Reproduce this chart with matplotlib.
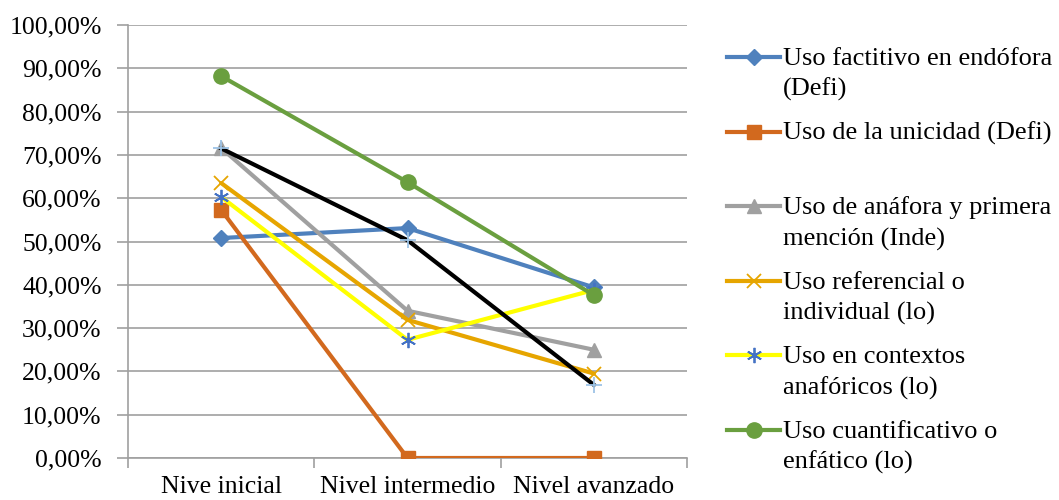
import numpy as np
import matplotlib
matplotlib.use("Agg")
import matplotlib.pyplot as plt
from matplotlib.lines import Line2D

plt.rcParams['font.family'] = ['Liberation Serif', 'DejaVu Serif']

niveles = ["Nive inicial", "Nivel intermedio", "Nivel avanzado"]

factitivo = [50.8, 53.1, 39.4]
unicidad = [57.3, 0.0, 0.0]
anafora = [71.6, 34.0, 25.0]
referencial = [63.5, 31.9, 19.5]
contextos = [60.3, 27.3, 38.8]
cuantificativo = [88.2, 63.7, 37.6]
otro = [71.5, 50.3, 16.9]   # serie sin leyenda visible (línea negra)

etiquetas = ["Uso factitivo en endófora\n(Defi)",
             "Uso de la unicidad (Defi)",
             "Uso de anáfora y primera\nmención (Inde)",
             "Uso referencial o\nindividual (lo)",
             "Uso en contextos\nanafóricos (lo)",
             "Uso cuantificativo o\nenfático (lo)"]

W, H = 1059, 500
fig = plt.figure(figsize=(W / 100, H / 100), dpi=100)
ax = fig.add_axes([128 / W, 1 - 458 / H, (687 - 128) / W, (458 - 25) / H])

# estilos de cada serie
estilos = [
    dict(color="#4F81BD", marker="D", ms=8, mfc="#4F81BD", mec="#4F81BD"),
    dict(color="#D2691E", marker="s", ms=10, mfc="#D2691E", mec="#D2691E"),
    dict(color="#A0A0A0", marker="^", ms=10, mfc="#A0A0A0", mec="#A0A0A0"),
    dict(color="#E6A500", marker="x", ms=10, mfc="none", mec="#E6A500", mew=1.3),
    dict(color="#FFFF00", marker=(6, 2, 0), ms=11, mfc="none", mec="#4472C4", mew=1.3),
    dict(color="#6A9F3F", marker="o", ms=11, mfc="#6A9F3F", mec="#6A9F3F"),
]
series = [factitivo, unicidad, anafora, referencial, contextos, cuantificativo]

x = np.arange(len(niveles))
for s, st in zip(series, estilos):
    ax.plot(x, s, lw=3, solid_capstyle="round", **st, zorder=3)
ax.plot(x, otro, color="black", lw=3, marker="+", ms=12, mec="#9DC3E6", mew=1.3, zorder=3)

ax.set_xlim(-0.5, 2.5)
ax.set_ylim(0, 100)
yt = np.arange(0, 101, 10)
ax.set_yticks(yt)
ax.set_yticklabels([f"{v:.2f}%".replace(".", ",") for v in yt], fontsize=18.5)
ax.yaxis.grid(True, color="#A0A0A0", lw=1.2)
ax.set_axisbelow(True)
ax.set_xticks(x)
ax.set_xticklabels(niveles, fontsize=18.5)
ax.set_xticks([-0.5, 0.5, 1.5, 2.5], minor=True)
ax.tick_params(axis="x", which="major", length=0, pad=13)
ax.tick_params(axis="x", which="minor", length=7, color="#A0A0A0", width=1.2)
ax.tick_params(axis="y", length=8, color="#A0A0A0", width=1.2, pad=11)
for sp in ["top", "right"]:
    ax.spines[sp].set_visible(False)
for sp in ["left", "bottom"]:
    ax.spines[sp].set_color("#A0A0A0")
    ax.spines[sp].set_linewidth(1.2)

# leyenda manual
y0, paso = 57, 74.6
for i, (lab, st) in enumerate(zip(etiquetas, estilos)):
    yh = y0 + i * paso
    fig.add_artist(Line2D([727 / W, 780 / W], [1 - yh / H, 1 - yh / H], lw=3,
                          transform=fig.transFigure, color=st["color"]))
    mst = {k: v for k, v in st.items() if k != "color"}
    fig.add_artist(Line2D([753.5 / W], [1 - yh / H], lw=0,
                          transform=fig.transFigure, **mst))
    for k, linea in enumerate(lab.split("\n")):
        fig.text(783 / W, 1 - (yh + 8 + k * 31) / H, linea, fontsize=19,
                 va="baseline", ha="left")

fig.savefig("out.png", dpi=100)
